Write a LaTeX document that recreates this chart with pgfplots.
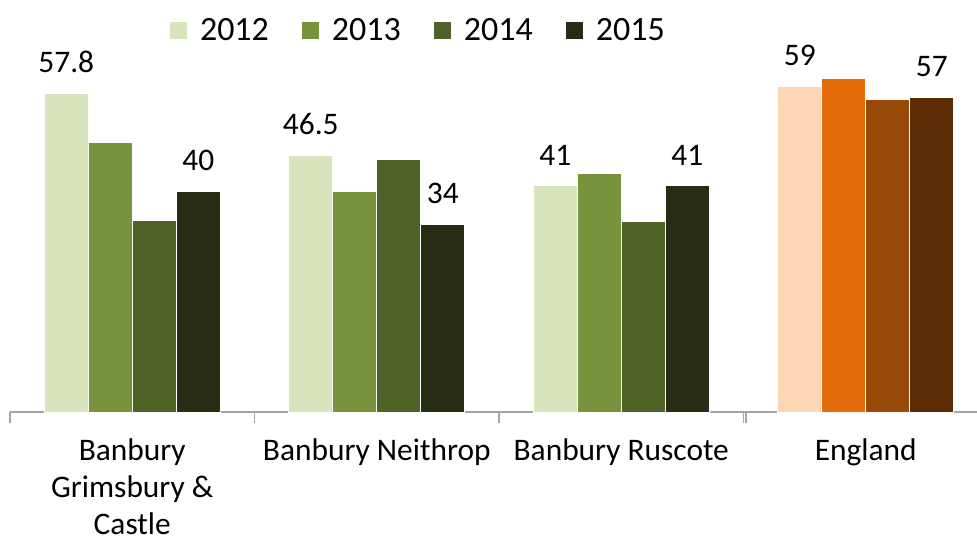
\documentclass[border=0pt]{standalone}
\usepackage{pgfplots}
\pgfplotsset{compat=1.18}
\usepackage{fontspec}
\setmainfont{Carlito}
\definecolor{gA}{HTML}{D8E4BC}
\definecolor{gB}{HTML}{77933C}
\definecolor{gC}{HTML}{4F6228}
\definecolor{gD}{HTML}{262D14}
\definecolor{eA}{HTML}{FCD5B4}
\definecolor{eB}{HTML}{E46C0A}
\definecolor{eC}{HTML}{984807}
\definecolor{eD}{HTML}{5B2C06}
\definecolor{axgray}{HTML}{A6A6A6}
\begin{document}
\begin{tikzpicture}
\begin{axis}[
  scale only axis,
  width=483.5pt, height=176.45pt,
  xmin=-0.5, xmax=3.455, ymin=0, ymax=64,
  axis x line*=bottom, axis y line=none,
  x axis line style={axgray, line width=0.6pt, -},
  ybar, bar width=22pt,
  xtick={0,1,2,3},
  xticklabels={{Banbury\\Grimsbury \&\\Castle},{Banbury Neithrop},{Banbury Ruscote},{England}},
  major tick length=0pt,
  xticklabel style={font=\fontsize{15.7}{18.5}\selectfont, align=center, anchor=north, yshift=-10pt},
  extra x ticks={-0.5,0.5,1.5,2.5,2.51},
  extra x tick labels={},
  extra x tick style={major tick length=5.5pt, tick align=outside, tick style={axgray, line width=0.6pt}},
  ytick=\empty,
  every axis plot/.append style={draw=white, line width=0.5pt},
  /pgf/number format/assume math mode=true,
  /pgf/number format/fixed, /pgf/number format/precision=1,
  nodes near coords style={font=\fontsize{15.7}{18}\selectfont, inner sep=0pt, anchor=south, yshift=10pt, text=black},
  legend columns=4,
  legend style={draw=none, fill=none, at={(0.428,1.08)}, anchor=center,
    font=\fontsize{17}{20}\selectfont,
    /tikz/every odd column/.append style={column sep=0pt},
    /tikz/every even column/.append style={column sep=10pt},
    nodes={inner xsep=6.5pt}},
  legend image code/.code={\fill[#1,draw=none] (0pt,-4.25pt) rectangle (8.5pt,4.25pt);},
  clip=false,
]
\addplot[fill=gA, bar shift=-33pt, nodes near coords] coordinates {(0,57.8) (1,46.5) (2,41)};
\addplot[fill=gB, bar shift=-11pt] coordinates {(0,48.8) (1,40.0) (2,43.2)};
\addplot[fill=gC, bar shift=11pt] coordinates {(0,34.8) (1,45.8) (2,34.6)};
\addplot[fill=gD, bar shift=33pt, nodes near coords] coordinates {(0,40) (1,34) (2,41)};
\legend{2012,2013,2014,2015}
\addplot[fill=eA, bar shift=-33pt, nodes near coords, forget plot] coordinates {(3,59)};
\addplot[fill=eB, bar shift=-11pt, forget plot] coordinates {(3,60.4)};
\addplot[fill=eC, bar shift=11pt, forget plot] coordinates {(3,56.6)};
\addplot[fill=eD, bar shift=33pt, nodes near coords, forget plot] coordinates {(3,57)};
\end{axis}
\pgfresetboundingbox
\path[use as bounding box] (-5pt,-64pt) rectangle (483.5pt,206pt);
\end{tikzpicture}
\end{document}
